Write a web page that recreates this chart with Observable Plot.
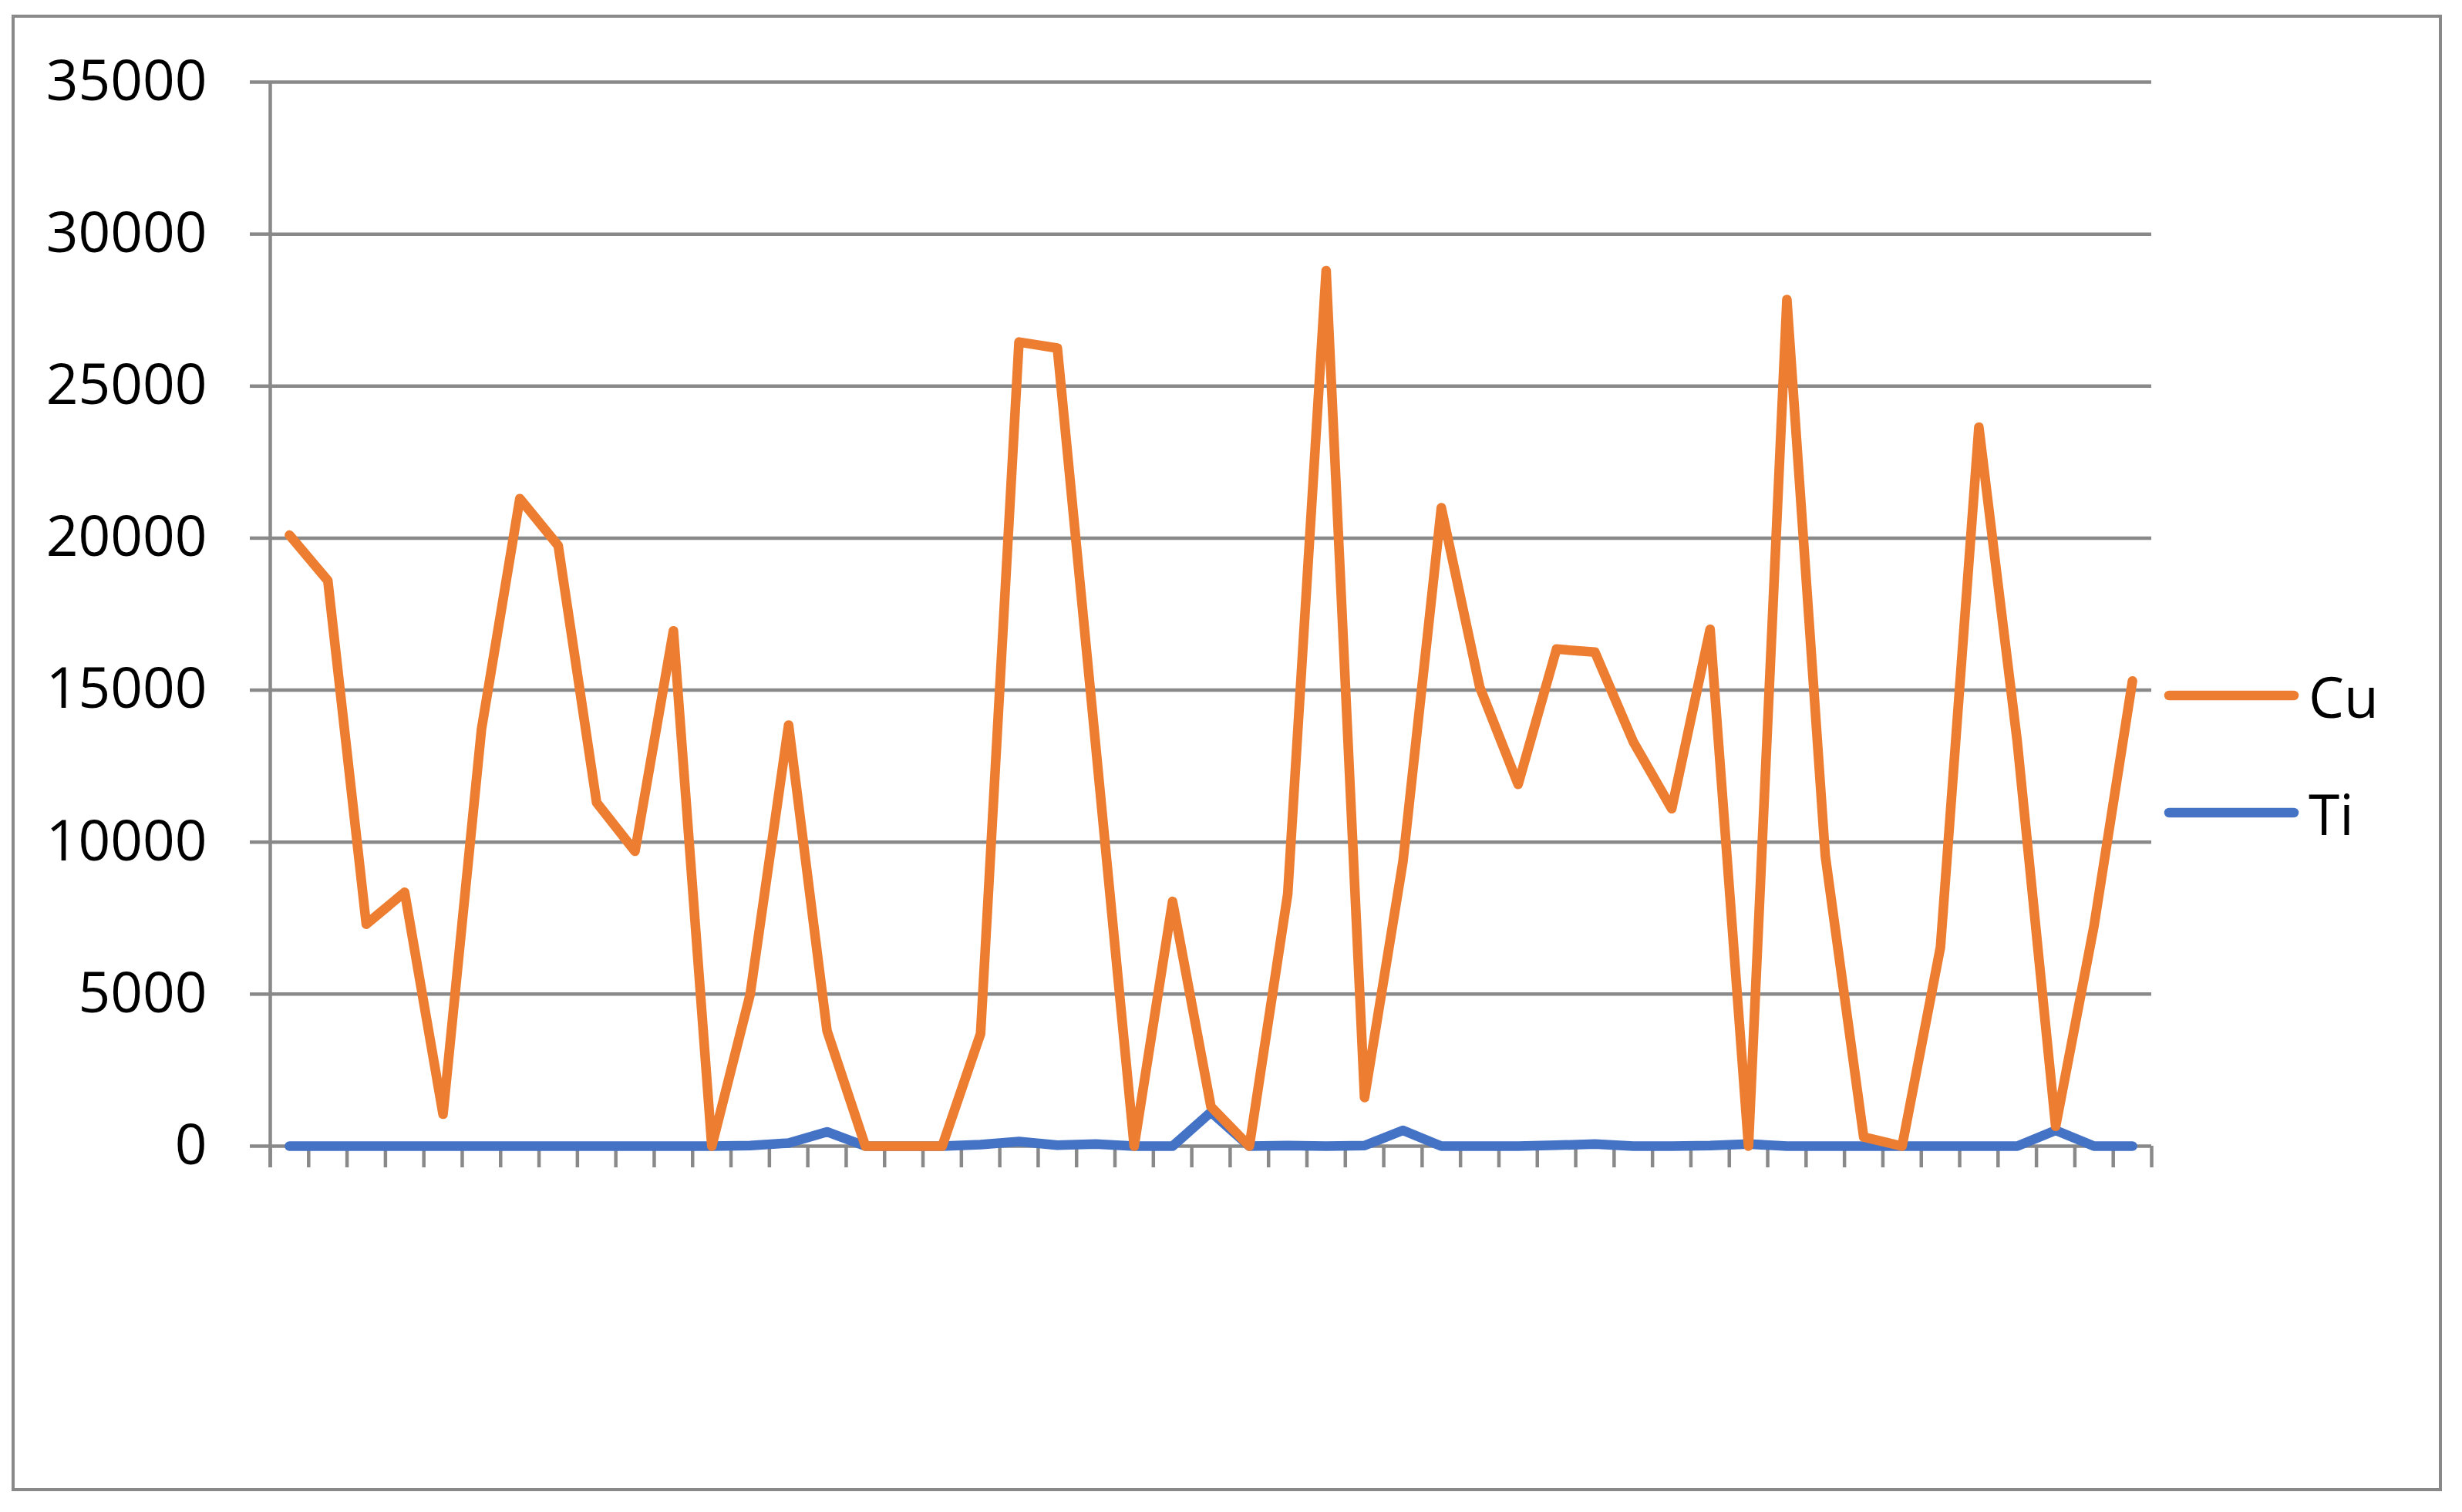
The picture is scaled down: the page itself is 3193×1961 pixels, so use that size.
<!DOCTYPE html>
<html>
<head>
<meta charset="utf-8">
<script src="https://cdn.jsdelivr.net/npm/d3@7"></script>
<script src="https://cdn.jsdelivr.net/npm/@observablehq/plot@0.6"></script>
<style>
  html, body { margin: 0; padding: 0; background: #fff; }
  #wrap { position: relative; width: 3193px; height: 1961px; overflow: hidden; font-family: "Open Sans", sans-serif; }
  #border { position: absolute; left: 15px; top: 19px; width: 3152px; height: 1915px; box-sizing: border-box; border: 4.5px solid #898989; pointer-events: none; }
  #legend { position: absolute; left: 2806px; top: 850px; }
  .item { display: flex; align-items: center; height: 104px; margin-bottom: 48px; }
  .item span { font-size: 73px; color: #000; margin-left: 12px; line-height: 1; }
</style>
</head>
<body>
<div id="wrap">
  <div id="chart"></div>
  <div id="border"></div>
  <div id="legend"></div>
</div>
<script>
// Sample indices (categories along the x axis; no labels shown)
const samples = [1,2,3,4,5,6,7,8,9,10,11,12,13,14,15,16,17,18,19,20,21,22,23,24,25,26,27,28,29,30,31,32,33,34,35,36,37,38,39,40,41,42,43,44,45,46,47,48,49];

// Series values
const cu = [20100,18600,7300,8350,1050,13700,21300,19750,11300,9700,16950,0,5000,13850,3800,0,0,0,3700,26450,26250,13150,0,8050,1300,0,8300,28800,1600,9350,21000,15100,11900,16350,16250,13300,11100,17000,0,27850,9550,300,0,6550,23650,13300,650,7250,15300];
const ti = [0,0,0,0,0,0,0,0,0,0,0,0,20,100,470,0,0,0,50,150,30,70,0,0,1120,0,20,0,20,520,0,0,0,30,70,0,0,20,70,0,0,0,0,0,0,0,520,0,0];

const seriesNames = ["Cu", "Ti"];
const seriesColors = ["#ED7D31", "#4472C4"];

const yTicks = [0,5000,10000,15000,20000,25000,30000,35000];
const gray = "#898989";

const rows = samples.map((s, i) => ({sample: s, Cu: cu[i], Ti: ti[i]}));
const boundaries = [0.5].concat(samples.map(s => s + 0.5));

const chart = Plot.plot({
  width: 3193,
  height: 1961,
  marginLeft: 350,
  marginRight: 403,
  marginTop: 106,
  marginBottom: 475,
  style: {fontFamily: "Open Sans", fontSize: "73px", color: "#000", background: "transparent"},
  x: {type: "linear", domain: [0.5, 49.5], axis: null},
  y: {domain: [0, 35000], axis: null},
  marks: [
    Plot.gridY(yTicks, {stroke: gray, strokeOpacity: 1, strokeWidth: 4.5}),
    Plot.axisY({ticks: yTicks, tickSize: 26, tickPadding: 56, stroke: gray, strokeWidth: 4.5, strokeOpacity: 1, fill: "#000", fontSize: 73, tickFormat: d => String(d), label: null}),
    Plot.axisX({ticks: boundaries, tickSize: 28, stroke: gray, strokeWidth: 4.5, strokeOpacity: 1, tickFormat: () => "", label: null}),
    Plot.ruleX([0.5], {stroke: gray, strokeWidth: 4.5, insetBottom: -28}),
    Plot.line(rows, {x: "sample", y: "Ti", stroke: seriesColors[1], strokeWidth: 12.5, strokeLinejoin: "round", strokeLinecap: "round"}),
    Plot.line(rows, {x: "sample", y: "Cu", stroke: seriesColors[0], strokeWidth: 12.5, strokeLinejoin: "round", strokeLinecap: "round"})
  ]
});
document.getElementById("chart").appendChild(chart);

// Legend
const legend = d3.select("#legend");
seriesNames.forEach((name, i) => {
  const item = legend.append("div").attr("class", "item");
  const svg = item.append("svg").attr("width", 176).attr("height", 20);
  svg.append("line").attr("x1", 7).attr("x2", 169).attr("y1", 10).attr("y2", 10)
    .attr("stroke", seriesColors[i]).attr("stroke-width", 12.5).attr("stroke-linecap", "round");
  item.append("span").text(name);
});
</script>
</body>
</html>
